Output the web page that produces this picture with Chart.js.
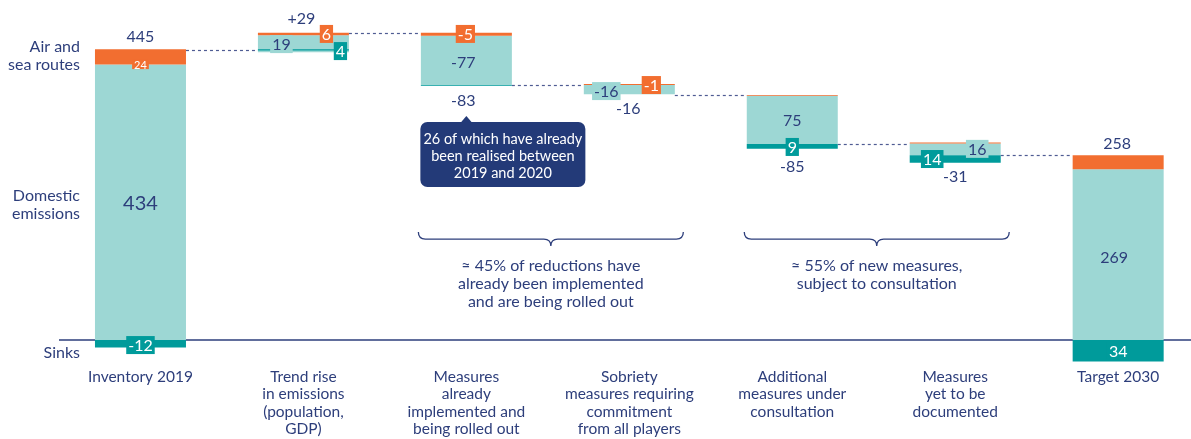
<!DOCTYPE html>
<html>
<head>
<meta charset="utf-8">
<script src="https://cdn.jsdelivr.net/npm/chart.js@4"></script>
<style>
html, body { margin: 0; padding: 0; background: #fff; }
</style>
</head>
<body>
<canvas id="chart" width="1191" height="439"></canvas>
<script>
// categories along the bottom
const categories = [
  ['Inventory 2019'],
  ['Trend rise', 'in emissions', '(population,', 'GDP)'],
  ['Measures', 'already', 'implemented and', 'being rolled out'],
  ['Sobriety', 'measures requiring', 'commitment', 'from all players'],
  ['Additional', 'measures under', 'consultation'],
  ['Measures', 'yet to be', 'documented'],
  ['Target 2030']
];

// floating segments [bottom, top], MtCO2e
const domestic = [[0, 434], [453, 480], [401, 479], [387, 401.5], [308.5, 384.5], [291, 309.5], [0, 269]];
const airSea = [[434, 458], [480, 484], [479, 484], [401.5, 403], [384.5, 386], [309.5, 311], [269, 291]];
const sinks = [[-12, 0], [456, 458], [400, 401], null, [301, 308.5], [279, 291], [-34, 0]];

// level of the dashed step line leaving each bar
const stepLevels = [457, 484, 401, 386, 309, 291];

// printed values
const netChange = ['445', '+29', '-83', '-16', '-85', '-31', '258'];
const domesticText = ['434', '19', '-77', '-16', '75', '16', '269'];
const airSeaText = ['24', '6', '-5', '-1'];
const sinksText = ['-12', '4', null, null, '9', '14', '34'];

const rowNames = [['Air and', 'sea routes'], ['Domestic', 'emissions'], ['Sinks']];
const calloutText = ['26 of which have already', 'been realised between', '2019 and 2020'];
const braceText = [
  ['≈ 45% of reductions have', 'already been implemented', 'and are being rolled out'],
  ['≈ 55% of new measures,', 'subject to consultation']
];

const navy = '#2d3e7b';
const boxNavy = '#233a78';
const lightTeal = '#9dd7d4';
const darkTeal = '#009b9b';
const orange = '#f26e30';
const FONT = 'Lato, "Open Sans", sans-serif';

function pts(arr) {
  const out = [];
  arr.forEach((v, i) => { if (v) out.push({ x: i, y: v }); });
  return out;
}

// where each printed value sits: category, pixel shift, level, look
const tags = [
  { i: 0, dx: 0, at: 479, t: netChange[0], look: 'plain' },
  { i: 0, dx: 0, at: 434.5, t: airSeaText[0], look: 'orangeSmall' },
  { i: 0, dx: 0, at: 217, t: domesticText[0], look: 'big' },
  { i: 0, dx: 0, at: -8, t: sinksText[0], look: 'dark' },
  { i: 1, dx: -2, at: 507, t: netChange[1], look: 'plain' },
  { i: 1, dx: -22, at: 466, t: domesticText[1], look: 'light' },
  { i: 1, dx: 23, at: 482, t: airSeaText[1], look: 'orange' },
  { i: 1, dx: 37, at: 455, t: sinksText[1], look: 'dark' },
  { i: 2, dx: -1, at: 482, t: airSeaText[2], look: 'orange' },
  { i: 2, dx: -3, at: 438, t: domesticText[2], look: 'plain' },
  { i: 2, dx: -3, at: 378, t: netChange[2], look: 'plain' },
  { i: 3, dx: -23, at: 392, t: domesticText[3], look: 'light' },
  { i: 3, dx: 22, at: 401.5, t: airSeaText[3], look: 'orange' },
  { i: 3, dx: -1, at: 365, t: netChange[3], look: 'plain' },
  { i: 4, dx: 0, at: 346.5, t: domesticText[4], look: 'plain' },
  { i: 4, dx: 0, at: 304, t: sinksText[4], look: 'dark' },
  { i: 4, dx: 0, at: 274, t: netChange[4], look: 'plain' },
  { i: 5, dx: 22, at: 301, t: domesticText[5], look: 'light' },
  { i: 5, dx: -23, at: 285, t: sinksText[5], look: 'dark' },
  { i: 5, dx: 0, at: 258, t: netChange[5], look: 'plain' },
  { i: 6, dx: -1, at: 310, t: netChange[6], look: 'plain' },
  { i: 6, dx: -4, at: 131, t: domesticText[6], look: 'plain' },
  { i: 6, dx: 0, at: -17, t: sinksText[6], look: 'dark' }
];

function drawTag(ctx, x, y, tag) {
  const size = tag.look === 'big' ? 20 : tag.look === 'orangeSmall' ? 11 : 16;
  ctx.font = size + 'px ' + FONT;
  ctx.textAlign = 'center';
  ctx.textBaseline = 'middle';
  const w = ctx.measureText(tag.t).width;
  let bg = null, fg = navy;
  if (tag.look === 'orange' || tag.look === 'orangeSmall') { bg = orange; fg = '#fff'; }
  if (tag.look === 'dark') { bg = darkTeal; fg = '#fff'; }
  if (tag.look === 'light') { bg = lightTeal; }
  if (bg) {
    ctx.fillStyle = bg;
    const h = tag.look === 'orangeSmall' ? 10 : size + 2;
    ctx.fillRect(x - w / 2 - 2, y - h / 2, w + 4, h);
  }
  ctx.fillStyle = fg;
  ctx.fillText(tag.t, x, y + 1);
}

function drawBrace(ctx, x1, x2, top) {
  const mid = (x1 + x2) / 2;
  const r = 7;
  ctx.beginPath();
  ctx.moveTo(x1, top);
  ctx.quadraticCurveTo(x1, top + r, x1 + r, top + r);
  ctx.lineTo(mid - r, top + r);
  ctx.quadraticCurveTo(mid, top + r, mid, top + 2 * r);
  ctx.quadraticCurveTo(mid, top + r, mid + r, top + r);
  ctx.lineTo(x2 - r, top + r);
  ctx.quadraticCurveTo(x2, top + r, x2, top);
  ctx.strokeStyle = navy;
  ctx.lineWidth = 1.3;
  ctx.stroke();
  return mid;
}

const decor = {
  id: 'decor',
  beforeDatasetsDraw(chart) {
    const { ctx, scales: { x, y }, chartArea } = chart;
    const bars = chart.getDatasetMeta(2).data;
    ctx.save();
    // zero line
    ctx.strokeStyle = navy;
    ctx.lineWidth = 1.5;
    ctx.beginPath();
    ctx.moveTo(chartArea.left, y.getPixelForValue(0));
    ctx.lineTo(chartArea.right, y.getPixelForValue(0));
    ctx.stroke();
    // dashed steps
    ctx.strokeStyle = '#4f5c93';
    ctx.lineWidth = 1.2;
    ctx.setLineDash([3, 3]);
    stepLevels.forEach((lv, i) => {
      const a = bars[i], b = bars[i + 1];
      const py = Math.round(y.getPixelForValue(lv)) + 0.5;
      ctx.beginPath();
      ctx.moveTo(a.x + a.width / 2, py);
      ctx.lineTo(b.x - b.width / 2, py);
      ctx.stroke();
    });
    ctx.restore();
  },
  afterDatasetsDraw(chart) {
    const { ctx, scales: { x, y } } = chart;
    ctx.save();
    tags.forEach(tag => drawTag(ctx, x.getPixelForValue(tag.i) + tag.dx, y.getPixelForValue(tag.at), tag));

    // row names on the left
    ctx.font = '16px ' + FONT;
    ctx.fillStyle = navy;
    ctx.textAlign = 'right';
    ctx.textBaseline = 'middle';
    const rowLevels = [461, 227, -20.5];
    rowNames.forEach((lines, k) => {
      const y0 = y.getPixelForValue(rowLevels[k]);
      lines.forEach((s, j) => ctx.fillText(s, 80, y0 + j * 17.5));
    });

    // callout box under -83
    const cx = x.getPixelForValue(2);
    const bTop = y.getPixelForValue(343.3), bBot = y.getPixelForValue(241);
    const bL = cx - 46, bR = cx + 119;
    ctx.fillStyle = boxNavy;
    ctx.beginPath();
    ctx.roundRect(bL, bTop, bR - bL, bBot - bTop, 7);
    ctx.fill();
    ctx.beginPath();
    ctx.moveTo(cx - 6, bTop + 1);
    ctx.lineTo(cx, bTop - 6);
    ctx.lineTo(cx + 6, bTop + 1);
    ctx.fill();
    ctx.fillStyle = '#fff';
    ctx.textAlign = 'center';
    ctx.font = '14.5px ' + FONT;
    calloutText.forEach((s, j) => ctx.fillText(s, (bL + bR) / 2, bTop + 17 + j * 17));

    // braces with their notes
    const bTopY = y.getPixelForValue(170);
    const spans = [[2, 3], [4, 5]];
    spans.forEach((sp, k) => {
      const x1 = x.getPixelForValue(sp[0]) - 48;
      const x2 = x.getPixelForValue(sp[1]) + 54;
      const mid = drawBrace(ctx, x1, x2, bTopY);
      ctx.fillStyle = navy;
      ctx.font = '16px ' + FONT;
      braceText[k].forEach((s, j) => ctx.fillText(s, mid, bTopY + 34 + j * 18));
    });
    ctx.restore();
  }
};

new Chart(document.getElementById('chart'), {
  type: 'bar',
  data: {
    datasets: [
      { label: 'Sinks', data: pts(sinks), backgroundColor: darkTeal },
      { label: 'Air and sea routes', data: pts(airSea), backgroundColor: orange },
      { label: 'Domestic emissions', data: pts(domestic), backgroundColor: lightTeal }
    ]
  },
  options: {
    responsive: false,
    animation: false,
    layout: { padding: { left: 59, right: 0, top: 10, bottom: 0 } },
    datasets: { bar: { grouped: false, categoryPercentage: 1, barPercentage: 0.5585, borderWidth: 0 } },
    plugins: { legend: { display: false }, tooltip: { enabled: false } },
    scales: {
      x: {
        type: 'linear',
        offset: false,
        min: -0.5,
        max: 6.447,
        grid: { display: false, drawTicks: false, offset: false },
        border: { display: false },
        afterBuildTicks: s => { s.ticks = categories.map((c, i) => ({ value: i })); },
        afterFit: s => { s.height = 74; },
        ticks: {
          autoSkip: false,
          maxRotation: 0,
          padding: 3,
          color: navy,
          font: { family: FONT, size: 15.5, lineHeight: 1.13 },
          callback: v => categories[v]
        }
      },
      y: { display: false, min: -39.4, max: 519.7 }
    }
  },
  plugins: [decor]
});
</script>
</body>
</html>
